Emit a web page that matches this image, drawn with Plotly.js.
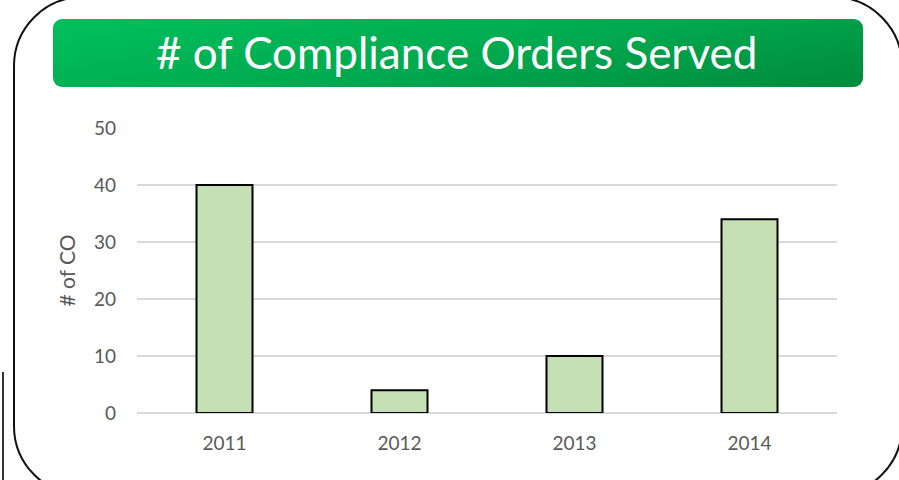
<!DOCTYPE html>
<html>
<head>
<meta charset="utf-8">
<script src="https://cdn.plot.ly/plotly-3.0.1.min.js"></script>
<style>
  html, body { margin: 0; padding: 0; background: #ffffff; overflow: hidden; }
  #wrap { position: relative; width: 899px; height: 480px; overflow: hidden; background: #fff; }
  #frame { position: absolute; left: 13px; top: -4px; width: 890px; height: 500px;
           border: 2.5px solid #111; border-radius: 70px; box-sizing: border-box; }
  #frame2 { position: absolute; left: 2px; top: 372px; width: 2px; height: 110px; background: #333; }
  #banner { position: absolute; left: 53px; top: 19px; width: 810px; height: 68px; border-radius: 9px;
            background: linear-gradient(170deg, #00c05c 0%, #00a84e 55%, #008a3c 100%); }
  #chart { position: absolute; left: 0; top: 0; width: 899px; height: 480px; }
</style>
</head>
<body>
<div id="wrap">
  <div id="frame2"></div>
  <div id="frame"></div>
  <div id="banner"></div>
  <div id="chart"></div>
</div>
<script>
const years = ['2011', '2012', '2013', '2014'];
const ordersServed = [40, 4, 10, 34];
const yTicks = [0, 10, 20, 30, 40, 50];

const trace = {
  type: 'bar',
  x: years,
  y: ordersServed,
  marker: { color: '#c5e0b4', line: { color: '#000000', width: 2 } },
  hoverinfo: 'skip'
};

const layout = {
  width: 899, height: 480,
  paper_bgcolor: 'rgba(0,0,0,0)',
  plot_bgcolor: 'rgba(0,0,0,0)',
  margin: { l: 137, r: 62, t: 128, b: 67 },
  bargap: 0.68,
  showlegend: false,
  font: { family: 'Lato, "Noto Sans", sans-serif', color: '#595959', size: 19 },
  title: {
    text: '# of Compliance Orders Served',
    font: { family: 'Lato, "Noto Sans", sans-serif', size: 44, color: '#ffffff' },
    xref: 'container', yref: 'container',
    x: 0.508, xanchor: 'center',
    y: 1 - 54 / 480, yanchor: 'middle'
  },
  xaxis: {
    type: 'category',
    showgrid: false, showline: false, zeroline: false,
    ticks: '', ticklabelstandoff: 17,
    tickfont: { size: 19, color: '#595959' }
  },
  yaxis: {
    range: [0, 50],
    tickvals: yTicks,
    showgrid: true, gridcolor: '#d9d9d9', gridwidth: 1.5,
    zeroline: true, zerolinecolor: '#d9d9d9', zerolinewidth: 1.5,
    showline: false, ticks: '', ticklabelstandoff: 20,
    tickfont: { size: 19, color: '#595959' },
    title: { text: '# of CO', font: { size: 21, color: '#595959' }, standoff: 12 }
  }
};

Plotly.newPlot('chart', [trace], layout, { displayModeBar: false, staticPlot: true });
</script>
</body>
</html>
